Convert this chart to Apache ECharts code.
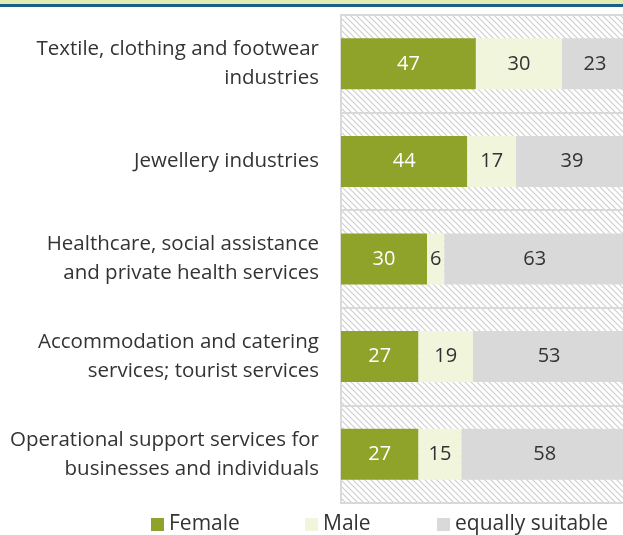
<!DOCTYPE html>
<html><head><meta charset="utf-8">
<script src="https://cdn.jsdelivr.net/npm/echarts@6/dist/echarts.min.js"></script>
<style>html,body{margin:0;padding:0;background:#fff;overflow:hidden;}#top1{height:4px;background:#e3ecb4;}#top2{height:3px;background:#1c5e8a;}#c{width:640px;height:528px;}</style>
</head><body>
<div id="top1"></div><div id="top2"></div>
<div id="c"></div>
<script>
const categories = ["Textile, clothing and footwear\nindustries","Jewellery industries","Healthcare, social assistance\nand private health services","Accommodation and catering\nservices; tourist services","Operational support services for\nbusinesses and individuals"];
const female = [47,44,30,27,27];
const male = [30,17,6,19,15];
const equally = [23,39,63,53,58];
const seriesNames = ["Female","Male","equally suitable"];

const pc = document.createElement('canvas');
pc.width = 6; pc.height = 6;
const g = pc.getContext('2d');
g.fillStyle = '#ffffff'; g.fillRect(0,0,6,6);
g.strokeStyle = '#cfcfcf'; g.lineWidth = 1.2;
g.beginPath(); g.moveTo(-1,-1); g.lineTo(7,7); g.moveTo(-7,-1); g.lineTo(1,7); g.moveTo(5,-1); g.lineTo(13,7); g.stroke();

const chart = echarts.init(document.getElementById('c'));
const font = '"Open Sans", sans-serif';
function s(name, data, color, lc){
  return {name, type:'bar', stack:'t', data, barWidth:51,
    itemStyle:{color},
    label:{show:true, color:lc, fontSize:20, fontFamily:font}};
}
const legendLefts = [146, 300, 432];
chart.setOption({
  animation:false,
  grid:{left:341, top:8, width:287, height:488, show:true,
    backgroundColor:{image:pc, repeat:'repeat'}, borderColor:'#d9d9d9', borderWidth:2},
  xAxis:{type:'value', min:0, max:100, show:false},
  yAxis:{type:'category', data:categories, inverse:true,
    axisLine:{show:false}, axisTick:{show:false},
    splitLine:{show:true, lineStyle:{color:'#d9d9d9', width:2}},
    axisLabel:{fontSize:20.5, color:'#333', fontFamily:font, lineHeight:29, margin:22}},
  legend: seriesNames.map((n,i)=>({data:[n], bottom:-5, left:legendLefts[i], itemWidth:13, itemHeight:13, itemGap:6, icon:'rect',
    textStyle:{fontSize:21, color:'#333', fontFamily:font}})),
  series:[s(seriesNames[0], female, '#8fa229', '#fff'), s(seriesNames[1], male, '#f0f5dc', '#333'), s(seriesNames[2], equally, '#d9d9d9', '#333')]
});
</script></body></html>
